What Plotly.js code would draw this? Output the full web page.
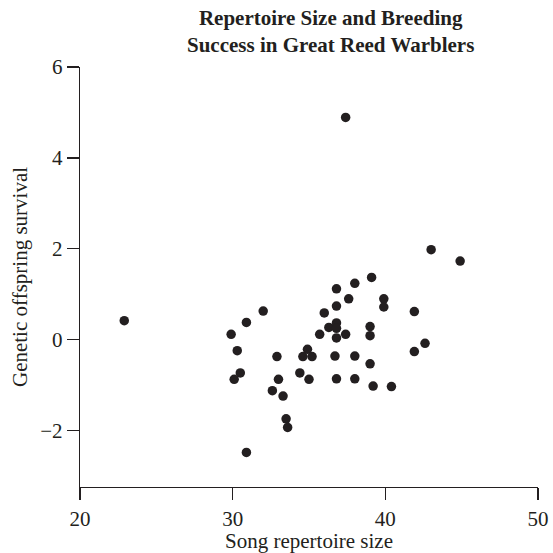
<!DOCTYPE html>
<html>
<head>
<meta charset="utf-8">
<script src="https://cdn.plot.ly/plotly-3.0.1.min.js"></script>
<style>
  html, body { margin: 0; padding: 0; background: #fff; }
  #chart { width: 553px; height: 553px; }
</style>
</head>
<body>
<div id="chart"></div>
<script>
// Song repertoire size of each male and the genetic survival of his offspring
const repertoire = [
  22.9, 37.4, 43.0, 44.9,
  29.9, 30.9, 32.0, 30.3, 30.5, 30.1, 32.9, 33.0, 32.6, 33.3,
  33.5, 33.6, 30.9, 34.4, 35.0, 34.9, 34.6, 35.2, 35.7, 36.0,
  36.3, 36.8, 36.8, 36.8, 37.4, 36.8, 36.8, 37.6, 38.0, 39.1,
  39.9, 39.9, 39.0, 39.0, 36.7, 38.0, 39.0, 36.8, 38.0, 39.2,
  40.4, 41.9, 42.6, 41.9
];
const survival = [
  0.42, 4.89, 1.98, 1.73,
  0.12, 0.38, 0.63, -0.24, -0.73, -0.87, -0.37, -0.87, -1.12, -1.24,
  -1.74, -1.93, -2.48, -0.73, -0.87, -0.21, -0.37, -0.37, 0.12, 0.59,
  0.27, 0.37, 0.25, 0.04, 0.12, 0.74, 1.12, 0.90, 1.24, 1.37,
  0.90, 0.72, 0.29, 0.09, -0.36, -0.36, -0.53, -0.86, -0.86, -1.02,
  -1.03, 0.62, -0.08, -0.26
];

const ink = '#231f20';
const serif = '"Liberation Serif", "Times New Roman", serif';
const titleText = '<b>Repertoire Size and Breeding<br>Success in Great Reed Warblers</b>';

const trace = {
  x: repertoire,
  y: survival,
  type: 'scatter',
  mode: 'markers',
  marker: { color: ink, size: 9.5 },
  hoverinfo: 'x+y'
};

const layout = {
  width: 553,
  height: 553,
  margin: { l: 80, r: 15, t: 67, b: 66 },
  paper_bgcolor: '#fff',
  plot_bgcolor: '#fff',
  showlegend: false,
  font: { family: serif, color: ink, size: 21 },
  annotations: [{
    text: titleText,
    xref: 'paper', yref: 'paper',
    x: 0.548, y: 1.02,
    xanchor: 'center', yanchor: 'bottom',
    showarrow: false,
    font: { family: serif, size: 21, color: ink }
  }],
  xaxis: {
    range: [20, 50],
    tickvals: [20, 30, 40, 50],
    showgrid: false, zeroline: false,
    showline: true, linecolor: ink, linewidth: 1.3,
    ticks: 'outside', ticklen: 12, tickwidth: 1.3, tickcolor: ink,
    tickfont: { family: serif, size: 21, color: ink },
    title: { text: 'Song repertoire size', font: { family: serif, size: 21, color: ink }, standoff: 2 }
  },
  yaxis: {
    range: [-3.24, 6],
    tickvals: [-2, 0, 2, 4, 6],
    showgrid: false, zeroline: false,
    showline: true, linecolor: ink, linewidth: 1.3,
    ticks: 'outside', ticklen: 12, tickwidth: 1.3, tickcolor: ink,
    tickfont: { family: serif, size: 21, color: ink },
    title: { text: 'Genetic offspring survival', font: { family: serif, size: 21, color: ink }, standoff: 6 }
  }
};

Plotly.newPlot('chart', [trace], layout, { displayModeBar: false, staticPlot: true });
</script>
</body>
</html>
